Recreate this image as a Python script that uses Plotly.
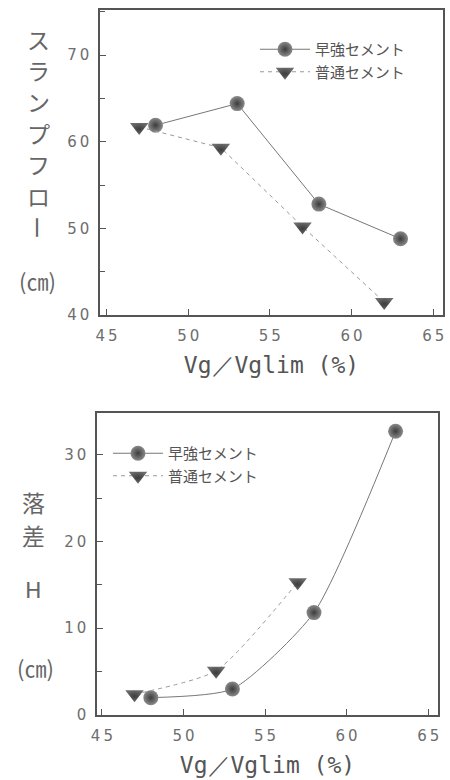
import plotly.graph_objects as go

# ---- data ----
X_EARLY = [48, 53, 58, 63]          # 早強セメント
X_NORMAL = [47, 52, 57, 62]         # 普通セメント
FLOW_EARLY = [61.9, 64.4, 52.8, 48.8]
FLOW_NORMAL = [61.7, 59.3, 50.2, 41.5]
X_H_EARLY = [48, 53, 58, 63]
X_H_NORMAL = [47, 52, 57]
H_EARLY = [2.0, 3.0, 11.8, 32.7]
H_NORMAL = [2.4, 5.1, 15.3]
SERIES_NAMES = ["早強セメント", "普通セメント"]
X_TICKS = [45, 50, 55, 60, 65]
Y_TICKS_TOP = [40, 50, 60, 70]
Y_TICKS_BOT = [0, 10, 20, 30]
X_TITLE = "Vg／Vglim (%)"
Y_TITLE_TOP = "スランプフロー"
Y_TITLE_BOT = ["落", "差", "H"]
UNIT = "(㎝)"


def spaced(vals):
    return ["\u2009".join(str(v)) for v in vals]


GRAY = "#555555"
TICKFONT = dict(family="DejaVu Sans", size=15, color="#6e6e6e")
CJK = "Noto Sans CJK JP"

circle_marker = dict(symbol="circle", size=15, color="#8a8a8a",
                     gradient=dict(type="radial", color="#3c3c3c"),
                     line=dict(width=0))
tri_marker = dict(symbol="triangle-down", size=16, color="#6a6a6a",
                  gradient=dict(type="radial", color="#3c3c3c"),
                  line=dict(width=0))

fig = go.Figure()
fig.add_trace(go.Scatter(x=X_EARLY, y=FLOW_EARLY, mode="lines+markers",
                         name=SERIES_NAMES[0], marker=circle_marker,
                         line=dict(color="#777777", width=1),
                         xaxis="x", yaxis="y", legend="legend"))
fig.add_trace(go.Scatter(x=X_NORMAL, y=FLOW_NORMAL, mode="lines+markers",
                         name=SERIES_NAMES[1], marker=tri_marker,
                         line=dict(color="#999999", width=1, dash="4px,4px"),
                         xaxis="x", yaxis="y", legend="legend"))
fig.add_trace(go.Scatter(x=X_H_EARLY, y=H_EARLY, mode="lines+markers",
                         name=SERIES_NAMES[0], marker=circle_marker,
                         line=dict(color="#777777", width=1, shape="spline", smoothing=0.6),
                         xaxis="x2", yaxis="y2", legend="legend2"))
fig.add_trace(go.Scatter(x=X_H_NORMAL, y=H_NORMAL, mode="lines+markers",
                         name=SERIES_NAMES[1], marker=tri_marker,
                         line=dict(color="#999999", width=1, dash="4px,4px",
                                   shape="spline", smoothing=0.6),
                         xaxis="x2", yaxis="y2", legend="legend2"))

axis_common = dict(showgrid=False, zeroline=False, showline=True, mirror=True,
                   linecolor=GRAY, linewidth=1.5, ticks="inside", ticklen=6,
                   tickcolor=GRAY, tickwidth=1.2, tickfont=TICKFONT,
                   ticklabelstandoff=6, automargin=False)

xtitle = dict(text=X_TITLE, font=dict(family="DejaVu Sans Mono", size=23, color="#555555"),
              standoff=13)

fig.update_layout(
    width=450, height=780, margin=dict(l=0, r=0, t=0, b=0, autoexpand=False),
    paper_bgcolor="white", plot_bgcolor="white",
    xaxis=dict(axis_common, domain=[100/450, 443/450], range=[44.6, 65.6],
               tickvals=X_TICKS, ticktext=spaced(X_TICKS), anchor="y", title=xtitle),
    yaxis=dict(axis_common, domain=[1-315/780, 1-10/780], range=[40, 75.2],
               tickvals=Y_TICKS_TOP, ticktext=spaced(Y_TICKS_TOP), anchor="x",
               minor=dict(dtick=5, ticks="inside", ticklen=5, tickcolor=GRAY)),
    xaxis2=dict(axis_common, domain=[97/450, 438/450], range=[44.7, 65.6],
                tickvals=X_TICKS, ticktext=spaced(X_TICKS), anchor="y2", title=xtitle),
    yaxis2=dict(axis_common, domain=[1-715/780, 1-413/780], range=[0, 34.8],
                tickvals=Y_TICKS_BOT, ticktext=spaced(Y_TICKS_BOT), anchor="x2",
                minor=dict(dtick=5, ticks="inside", ticklen=5, tickcolor=GRAY)),
    legend=dict(x=255/450, y=1-33/780, xanchor="left", yanchor="top",
                font=dict(family=CJK, size=15, color="#555555"),
                bgcolor="rgba(0,0,0,0)", tracegroupgap=0, itemwidth=50),
    legend2=dict(x=108/450, y=1-437/780, xanchor="left", yanchor="top",
                 font=dict(family=CJK, size=15, color="#555555"),
                 bgcolor="rgba(0,0,0,0)", tracegroupgap=0, itemwidth=50),
    showlegend=True,
)

ann_font = dict(family=CJK, size=23, color="#666666")
annotations = []
# vertical katakana title, one glyph per row
top_y = [39, 70, 101, 133, 164, 196, 227]
for ch, yy in zip(Y_TITLE_TOP, top_y):
    a = dict(text=ch, x=38/450, y=1-yy/780, xanchor="center", yanchor="middle")
    if ch == "ー":
        a["textangle"] = 90
    annotations.append(a)
annotations.append(dict(text=UNIT, x=37/450, y=1-280/780, xanchor="center", yanchor="middle",
                        font=dict(family=CJK, size=22, color="#666666")))
for ch, yy in zip(Y_TITLE_BOT, [502, 535, 590]):
    a = dict(text=ch, x=33/450, y=1-yy/780, xanchor="center", yanchor="middle")
    if ch == "H":
        a["font"] = dict(family="DejaVu Sans", size=22, color="#666666")
    annotations.append(a)
annotations.append(dict(text=UNIT, x=35/450, y=1-667/780, xanchor="center", yanchor="middle",
                        font=dict(family=CJK, size=22, color="#666666")))
for a in annotations:
    a.setdefault("font", ann_font)
    fig.add_annotation(xref="paper", yref="paper", showarrow=False, **a)

fig.write_html("out.html", config={"displayModeBar": False},
               post_script="document.body.style.margin='0';")
